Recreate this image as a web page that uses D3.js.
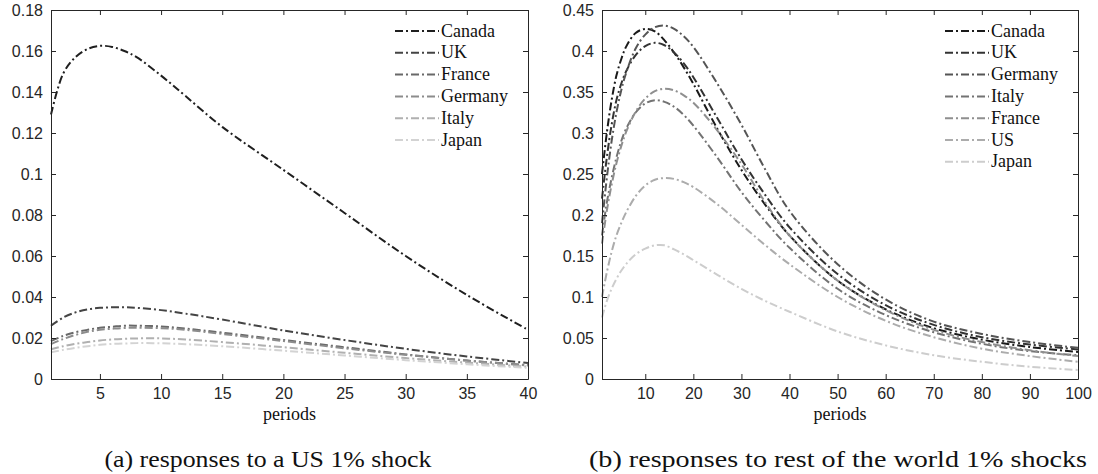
<!DOCTYPE html>
<html>
<head>
<meta charset="utf-8">
<script src="https://cdn.jsdelivr.net/npm/d3@7"></script>
<style>
  body { margin: 0; background: #fff; }
  svg { display: block; }
</style>
</head>
<body>
<script>
// ---- data ----
// panel (a): responses to a US 1% shock
let periodsA = [1, 2, 3, 4, 5, 6, 7, 8, 10, 12, 15, 20, 25, 30, 35, 40];
let countriesA = ["Canada", "UK", "France", "Germany", "Italy", "Japan"];
let canadaA  = [0.129, 0.149, 0.157, 0.161, 0.1625, 0.162, 0.160, 0.157, 0.148, 0.138, 0.123, 0.102, 0.081, 0.060, 0.041, 0.024];
let ukA      = [0.026, 0.030, 0.0325, 0.034, 0.0347, 0.035, 0.035, 0.0347, 0.0336, 0.0319, 0.029, 0.0237, 0.019, 0.0147, 0.011, 0.0078];
let franceA  = [0.0185, 0.021, 0.0228, 0.024, 0.025, 0.0255, 0.026, 0.026, 0.0256, 0.0246, 0.0226, 0.019, 0.0155, 0.012, 0.009, 0.0068];
let germanyA = [0.017, 0.0195, 0.0215, 0.023, 0.024, 0.0245, 0.0249, 0.025, 0.0248, 0.024, 0.022, 0.0185, 0.015, 0.0118, 0.009, 0.0066];
let italyA   = [0.0145, 0.016, 0.0172, 0.018, 0.0188, 0.0193, 0.0196, 0.0198, 0.0198, 0.0193, 0.018, 0.0155, 0.0128, 0.0102, 0.008, 0.006];
let japanA   = [0.013, 0.0142, 0.0152, 0.016, 0.0167, 0.0171, 0.0173, 0.0175, 0.0174, 0.017, 0.016, 0.0138, 0.0115, 0.0092, 0.0072, 0.0054];
let xTicksA = [5, 10, 15, 20, 25, 30, 35, 40];
let yTicksA = [0, 0.02, 0.04, 0.06, 0.08, 0.1, 0.12, 0.14, 0.16, 0.18];
let yLabelsA = ["0", "0.02", "0.04", "0.06", "0.08", "0.1", "0.12", "0.14", "0.16", "0.18"];

// panel (b): responses to rest of the world 1% shocks
let periodsB = [1, 2, 3, 4, 5, 6, 8, 10, 12, 14, 16, 18, 20, 25, 30, 35, 40, 50, 60, 70, 80, 90, 100];
let countriesB = ["Canada", "UK", "Germany", "Italy", "France", "US", "Japan"];
let canadaB  = [0.25, 0.30, 0.34, 0.37, 0.39, 0.405, 0.422, 0.427, 0.424, 0.413, 0.398, 0.38, 0.36, 0.305, 0.255, 0.212, 0.175, 0.12, 0.085, 0.062, 0.048, 0.039, 0.033];
let ukB      = [0.22, 0.27, 0.31, 0.34, 0.36, 0.375, 0.395, 0.406, 0.41, 0.407, 0.398, 0.385, 0.368, 0.318, 0.268, 0.224, 0.185, 0.128, 0.09, 0.066, 0.051, 0.042, 0.036];
let germanyB = [0.19, 0.245, 0.29, 0.325, 0.352, 0.373, 0.403, 0.42, 0.429, 0.431, 0.427, 0.418, 0.405, 0.36, 0.31, 0.255, 0.205, 0.14, 0.097, 0.07, 0.055, 0.045, 0.038];
let italyB   = [0.175, 0.215, 0.245, 0.27, 0.29, 0.305, 0.325, 0.336, 0.34, 0.338, 0.332, 0.322, 0.309, 0.27, 0.228, 0.192, 0.16, 0.11, 0.078, 0.057, 0.043, 0.034, 0.029];
let franceB  = [0.165, 0.205, 0.237, 0.263, 0.284, 0.301, 0.326, 0.342, 0.351, 0.354, 0.352, 0.346, 0.337, 0.303, 0.262, 0.215, 0.175, 0.12, 0.084, 0.06, 0.045, 0.035, 0.028];
let usB      = [0.10, 0.13, 0.155, 0.175, 0.19, 0.203, 0.223, 0.236, 0.243, 0.245, 0.244, 0.24, 0.234, 0.213, 0.188, 0.163, 0.14, 0.1, 0.071, 0.051, 0.037, 0.028, 0.021];
let japanB   = [0.075, 0.095, 0.11, 0.122, 0.132, 0.14, 0.152, 0.159, 0.163, 0.163, 0.158, 0.152, 0.145, 0.127, 0.11, 0.095, 0.082, 0.058, 0.041, 0.029, 0.021, 0.015, 0.011];
let xTicksB = [10, 20, 30, 40, 50, 60, 70, 80, 90, 100];
let yTicksB = [0, 0.05, 0.1, 0.15, 0.2, 0.25, 0.3, 0.35, 0.4, 0.45];
let yLabelsB = ["0", "0.05", "0.1", "0.15", "0.2", "0.25", "0.3", "0.35", "0.4", "0.45"];

let width = 1098;
let height = 474;

let svg = d3.select("body").append("svg")
  .attr("width", width).attr("height", height);

let axisColor = "#262626";
let tickFont = "'Liberation Sans', Arial, sans-serif";
let serifFont = "'Liberation Serif', 'Times New Roman', serif";

function drawPanel(cfg) {
  let g = svg.append("g");

  let xScale = d3.scaleLinear().domain(cfg.xDomain).range([cfg.left, cfg.right]);
  let yScale = d3.scaleLinear().domain(cfg.yDomain).range([cfg.bottom, cfg.top]);

  // curves
  let line = d3.line()
    .x(function(d) { return xScale(d[0]); })
    .y(function(d) { return yScale(d[1]); })
    .curve(d3.curveCatmullRom.alpha(0.5));

  cfg.series.forEach(function(s, i) {
    let pts = cfg.periods.map(function(p, j) { return [p, s[j]]; });
    g.append("path")
      .attr("d", line(pts))
      .attr("fill", "none")
      .attr("stroke", cfg.colors[i])
      .attr("stroke-width", 2)
      .attr("stroke-dasharray", "8,3,2,3");
  });

  // box axes with inward ticks (left, bottom, and mirrored)
  let tickLen = 5;
  let axisLeft = d3.axisLeft(yScale).tickValues(cfg.yTicks)
    .tickFormat(function(d, i) { return cfg.yLabels[i]; })
    .tickSizeInner(-tickLen).tickSizeOuter(0).tickPadding(8);
  let axisBottom = d3.axisBottom(xScale).tickValues(cfg.xTicks)
    .tickFormat(d3.format("d"))
    .tickSizeInner(-tickLen).tickSizeOuter(0).tickPadding(9);
  let axisRight = d3.axisRight(yScale).tickValues(cfg.yTicks)
    .tickFormat("").tickSizeInner(-tickLen).tickSizeOuter(0);
  let axisTop = d3.axisTop(xScale).tickValues(cfg.xTicks)
    .tickFormat("").tickSizeInner(-tickLen).tickSizeOuter(0);

  let gl = g.append("g").attr("transform", "translate(" + cfg.left + ",0)").call(axisLeft);
  let gb = g.append("g").attr("transform", "translate(0," + cfg.bottom + ")").call(axisBottom);
  let gr = g.append("g").attr("transform", "translate(" + cfg.right + ",0)").call(axisRight);
  let gt = g.append("g").attr("transform", "translate(0," + cfg.top + ")").call(axisTop);

  [gl, gb, gr, gt].forEach(function(a) {
    a.selectAll("path, line").attr("stroke", axisColor).attr("stroke-width", 1);
    a.selectAll("text").attr("fill", axisColor)
      .style("font-family", tickFont).style("font-size", "16px");
  });

  // x label
  g.append("text")
    .attr("x", (cfg.left + cfg.right) / 2)
    .attr("y", cfg.bottom + 41)
    .attr("text-anchor", "middle")
    .style("font-family", serifFont).style("font-size", "18px")
    .attr("fill", "#111")
    .text("periods");

  // legend
  cfg.names.forEach(function(name, i) {
    let ly = cfg.legendY + i * 21.8;
    g.append("line")
      .attr("x1", cfg.legendX).attr("x2", cfg.legendX + 44)
      .attr("y1", ly).attr("y2", ly)
      .attr("stroke", cfg.colors[i])
      .attr("stroke-width", 2)
      .attr("stroke-dasharray", "8,3,2,3");
    g.append("text")
      .attr("x", cfg.legendX + 46)
      .attr("y", ly + 5.5)
      .style("font-family", serifFont).style("font-size", "18px")
      .attr("fill", "#111")
      .text(name);
  });

  // caption
  g.append("text")
    .attr("x", cfg.captionX)
    .attr("y", 467)
    .attr("text-anchor", "middle")
    .attr("textLength", cfg.captionW)
    .attr("lengthAdjust", "spacingAndGlyphs")
    .style("font-family", serifFont).style("font-size", "23px")
    .attr("fill", "#111")
    .text(cfg.caption);
}

drawPanel({
  left: 51, right: 528, top: 10, bottom: 379,
  xDomain: [1, 40], yDomain: [0, 0.18],
  xTicks: xTicksA, yTicks: yTicksA, yLabels: yLabelsA,
  periods: periodsA,
  series: [canadaA, ukA, franceA, germanyA, italyA, japanA],
  names: countriesA,
  colors: ["#1f1f1f", "#444444", "#696969", "#8c8c8c", "#b0b0b0", "#d3d3d3"],
  legendX: 395, legendY: 31,
  caption: "(a) responses to a US 1% shock",
  captionX: 268, captionW: 327
});

drawPanel({
  left: 602, right: 1078, top: 10, bottom: 379,
  xDomain: [1, 100], yDomain: [0, 0.45],
  xTicks: xTicksB, yTicks: yTicksB, yLabels: yLabelsB,
  periods: periodsB,
  series: [canadaB, ukB, germanyB, italyB, franceB, usB, japanB],
  names: countriesB,
  colors: ["#1a1a1a", "#333333", "#555555", "#737373", "#8f8f8f", "#acacac", "#cdcdcd"],
  legendX: 945, legendY: 31,
  caption: "(b) responses to rest of the world 1% shocks",
  captionX: 838, captionW: 498
});
</script>
</body>
</html>
